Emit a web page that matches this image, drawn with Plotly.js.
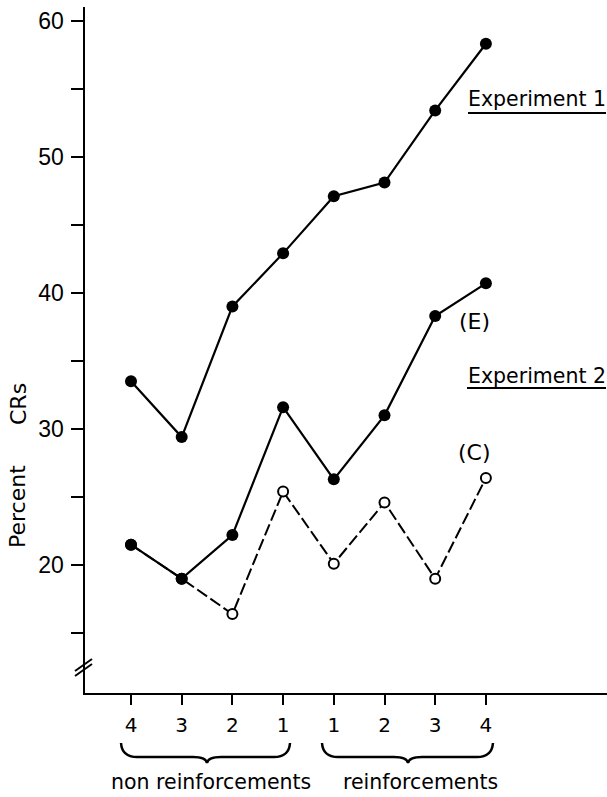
<!DOCTYPE html>
<html>
<head>
<meta charset="utf-8">
<script src="https://cdn.plot.ly/plotly-3.0.1.min.js"></script>
<style>html,body{margin:0;padding:0;background:#fff;overflow:hidden;}#chart{width:607px;height:797px;}</style>
</head>
<body>
<div id="chart"></div>
<script>
// ---- data ----
var xPos = [0, 1, 2, 3, 4, 5, 6, 7];
var xTickLabels = ['4', '3', '2', '1', '1', '2', '3', '4'];
var exp1 = [33.5, 29.4, 39.0, 42.9, 47.1, 48.1, 53.4, 58.3];
var exp2E = [21.5, 19.0, 22.2, 31.6, 26.3, 31.0, 38.3, 40.7];
var exp2C = [21.5, 19.0, 16.4, 25.4, 20.1, 24.6, 19.0, 26.4];
var yTickVals = [15, 20, 25, 30, 35, 40, 45, 50, 55, 60];
var yTickText = ['', '20', '', '30', '', '40', '', '50', '', '60'];

// ---- layout geometry (pixels) ----
var W = 607, H = 797;
var M = {l: 85, r: 4, t: 7, b: 104};
var pw = W - M.l - M.r, ph = H - M.t - M.b;
function px(x) { return (x - M.l) / pw; }
function py(y) { return (H - M.b - y) / ph; }

var font = 'DejaVu Sans, sans-serif';

var traces = [
  {x: xPos, y: exp2C, mode: 'lines+markers', type: 'scatter',
   line: {color: '#000', width: 2, dash: '12px,4px'},
   marker: {symbol: 'circle', size: 10, color: '#fff', line: {color: '#000', width: 2}}},
  {x: xPos, y: exp2E, mode: 'lines+markers', type: 'scatter',
   line: {color: '#000', width: 2.2},
   marker: {symbol: 'circle', size: 12, color: '#000'}},
  {x: xPos, y: exp1, mode: 'lines+markers', type: 'scatter',
   line: {color: '#000', width: 2.2},
   marker: {symbol: 'circle', size: 12, color: '#000'}}
];

function brace(x1, x2, mid) {
  var yT = 743, yB = 757, yC = 763;
  function P(x, y) { return px(x).toFixed(4) + ',' + py(y).toFixed(4); }
  return 'M' + P(x1, yT) + ' Q' + P(x1 + 1, yB) + ' ' + P(x1 + 16, yB) +
         ' L' + P(mid - 14, yB) + ' Q' + P(mid - 1, yB) + ' ' + P(mid, yC) +
         ' Q' + P(mid + 1, yB) + ' ' + P(mid + 14, yB) +
         ' L' + P(x2 - 16, yB) + ' Q' + P(x2 - 1, yB) + ' ' + P(x2, yT);
}

var shapes = [
  {type: 'path', xref: 'paper', yref: 'paper', path: brace(121, 290, 207), line: {color: '#000', width: 2.5}},
  {type: 'path', xref: 'paper', yref: 'paper', path: brace(322, 493, 408), line: {color: '#000', width: 2.5}},
  // underlines
  {type: 'line', xref: 'paper', yref: 'paper', x0: px(468), x1: px(606), y0: py(113), y1: py(113), line: {color: '#000', width: 2}},
  {type: 'line', xref: 'paper', yref: 'paper', x0: px(467), x1: px(606), y0: py(388), y1: py(388), line: {color: '#000', width: 2}},
  // x axis extension to right edge
  {type: 'line', xref: 'paper', yref: 'paper', x0: 1, x1: px(607), y0: py(694), y1: py(694), line: {color: '#000', width: 2}},
  // axis break marks
  {type: 'line', xref: 'paper', yref: 'paper', x0: px(75), x1: px(92), y0: py(671), y1: py(659), line: {color: '#000', width: 2}},
  {type: 'line', xref: 'paper', yref: 'paper', x0: px(75), x1: px(92), y0: py(676), y1: py(664), line: {color: '#000', width: 2}}
];

function ann(text, x, y, size, extra) {
  var a = {text: text, xref: 'paper', yref: 'paper', x: px(x), y: py(y),
           showarrow: false, xanchor: 'center', yanchor: 'middle',
           font: {family: font, size: size, color: '#000'}};
  for (var k in extra) a[k] = extra[k];
  return a;
}

var annotations = [
  ann('Experiment 1', 537, 99, 20.5),
  ann('Experiment 2', 537, 376, 20.5),
  ann('(E)', 474, 322, 22),
  ann('(C)', 474, 452, 22),
  ann('non reinforcements', 211, 782, 20.5),
  ann('reinforcements', 420, 782, 20.5),
  ann('Percent', 18, 507, 22, {textangle: -90}),
  ann('CRs', 18, 404, 22, {textangle: -90})
];

var step = 50.7;
var layout = {
  width: W, height: H,
  margin: M,
  paper_bgcolor: '#fff', plot_bgcolor: '#fff',
  showlegend: false,
  xaxis: {
    range: [(85 - 131) / step, (W - M.r - 131) / step], tickmode: 'array', tickvals: xPos, ticktext: xTickLabels,
    showgrid: false, zeroline: false, showline: true, linecolor: '#000', linewidth: 2,
    ticks: 'outside', ticklen: 10, tickwidth: 2, tickcolor: '#000',
    tickfont: {family: font, size: 20, color: '#000'}, ticklabelstandoff: 3
  },
  yaxis: {
    range: [10.6, 61.0], tickmode: 'array', tickvals: yTickVals, ticktext: yTickText,
    showgrid: false, zeroline: false, showline: true, linecolor: '#000', linewidth: 2.5,
    ticks: 'outside', ticklen: 12, tickwidth: 2, tickcolor: '#000',
    tickfont: {family: 'Liberation Sans, Arial, sans-serif', size: 23, color: '#000'},
    ticklabelstandoff: 2
  },
  shapes: shapes,
  annotations: annotations
};

Plotly.newPlot('chart', traces, layout, {displayModeBar: false, staticPlot: true});
</script>
</body>
</html>
